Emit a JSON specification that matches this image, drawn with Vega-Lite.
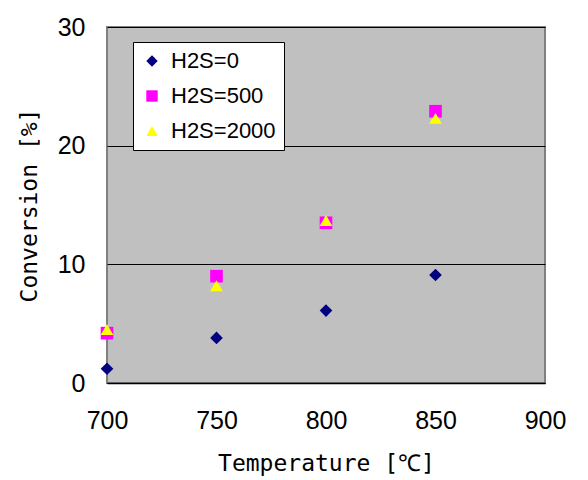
{
  "$schema": "https://vega.github.io/schema/vega-lite/v6.json",
  "width": 438,
  "height": 356,
  "autosize": "none",
  "padding": {"left": 107, "top": 27, "right": 43, "bottom": 97},
  "background": "white",
  "config": {
    "view": {"fill": "#c0c0c0", "stroke": "#808080", "strokeWidth": 2},
    "font": "Liberation Sans"
  },
  "data": {
    "values": [
      {"T": 700, "conv": 1.2, "series": "H2S=0"},
      {"T": 750, "conv": 3.8, "series": "H2S=0"},
      {"T": 800, "conv": 6.1, "series": "H2S=0"},
      {"T": 850, "conv": 9.1, "series": "H2S=0"},
      {"T": 700, "conv": 4.2, "series": "H2S=500"},
      {"T": 750, "conv": 9.0, "series": "H2S=500"},
      {"T": 800, "conv": 13.5, "series": "H2S=500"},
      {"T": 850, "conv": 22.9, "series": "H2S=500"},
      {"T": 700, "conv": 4.5, "series": "H2S=2000"},
      {"T": 750, "conv": 8.2, "series": "H2S=2000"},
      {"T": 800, "conv": 13.7, "series": "H2S=2000"},
      {"T": 850, "conv": 22.3, "series": "H2S=2000"}
    ]
  },
  "mark": {"type": "point", "filled": true, "opacity": 1, "size": 160, "clip": false},
  "encoding": {
    "x": {
      "field": "T", "type": "quantitative",
      "scale": {"domain": [700, 900], "nice": false, "zero": false},
      "axis": {
        "values": [700, 750, 800, 850, 900],
        "title": "Temperature [℃]",
        "titleFont": "DejaVu Sans Mono",
        "titleFontSize": 23, "titleFontWeight": "normal", "titleColor": "black",
        "titlePadding": 19,
        "labelFontSize": 25, "labelColor": "black", "labelPadding": 25,
        "labelFlush": false,
        "ticks": false,
        "domain": true, "domainColor": "black", "domainWidth": 1.5,
        "grid": false
      }
    },
    "y": {
      "field": "conv", "type": "quantitative",
      "scale": {"domain": [0, 30], "nice": false},
      "axis": {
        "values": [0, 10, 20, 30],
        "title": "Conversion [%]",
        "titleFont": "DejaVu Sans Mono",
        "titleFontSize": 23, "titleFontWeight": "normal", "titleColor": "black",
        "titlePadding": 16,
        "labelFontSize": 25, "labelColor": "black", "labelPadding": 22,
        "labelFlush": false,
        "ticks": false,
        "domain": false,
        "grid": true, "gridColor": "black", "gridWidth": 1.2, "gridOpacity": 1
      }
    },
    "color": {
      "field": "series", "type": "nominal",
      "scale": {"domain": ["H2S=0", "H2S=500", "H2S=2000"], "range": ["#000080", "#ff00ff", "#ffff00"]},
      "legend": {
        "orient": "none", "legendX": 26, "legendY": 15,
        "title": null,
        "fillColor": "white", "strokeColor": "black",
        "padding": 8,
        "labelFontSize": 22, "labelColor": "black",
        "symbolSize": 130, "symbolStrokeWidth": 0,
        "rowPadding": 13, "labelOffset": 8,
        "symbolOpacity": 1
      }
    },
    "shape": {
      "field": "series", "type": "nominal",
      "scale": {"domain": ["H2S=0", "H2S=500", "H2S=2000"], "range": ["diamond", "square", "triangle-up"]}
    }
  }
}
